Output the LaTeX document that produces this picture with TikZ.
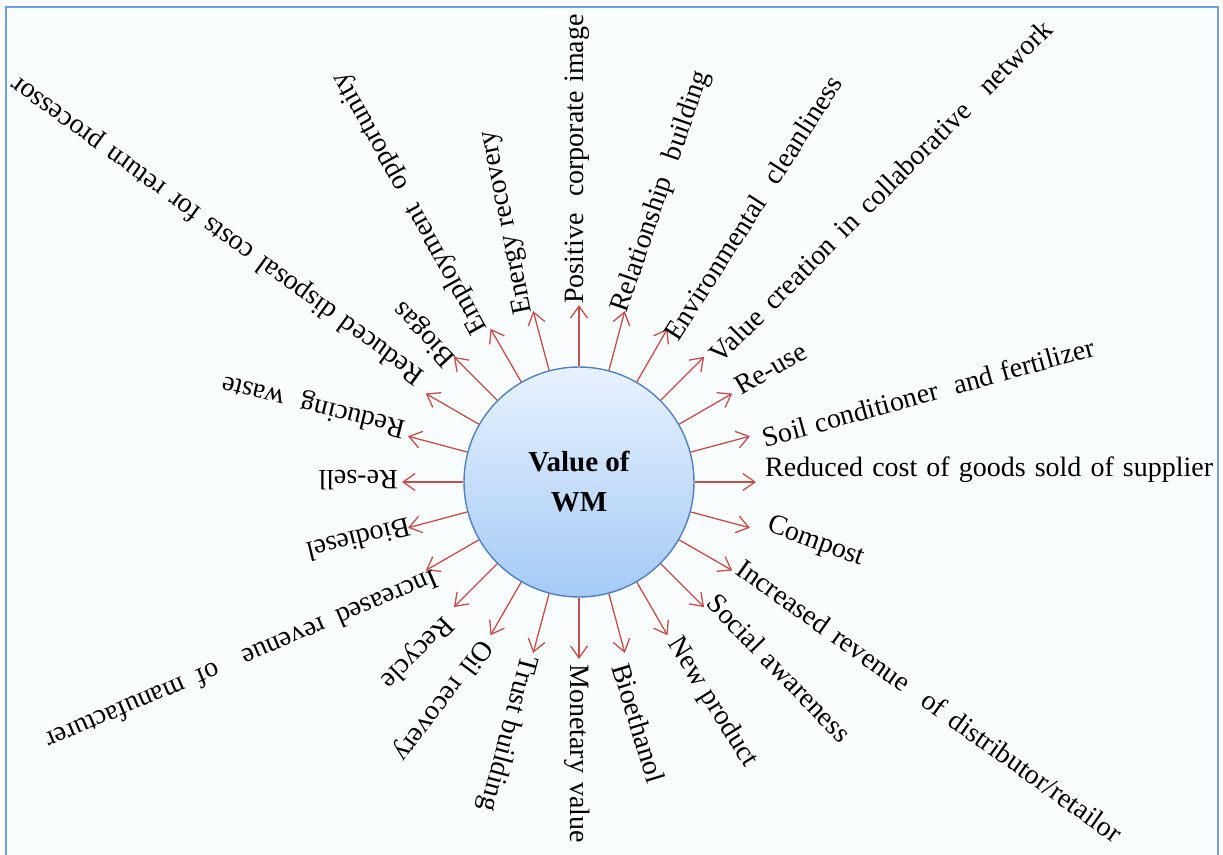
\documentclass[tikz,border=0pt]{standalone}
\usepackage{fontspec}
\setmainfont{Liberation Serif}
\usetikzlibrary{arrows.meta}
\definecolor{spokered}{HTML}{C0504D}
\definecolor{frameblue}{HTML}{6F9FE0}
\definecolor{rimblue}{HTML}{4F81BD}
\definecolor{discTop}{HTML}{E8F2FE}
\definecolor{discBottom}{HTML}{A4CAF6}
\definecolor{paper}{HTML}{FAFDFD}
% a wider gap between two words
\newcommand\dblsp{\hspace{0.3em plus 1fil}}
\newcommand\lblfont{\fontsize{28}{30}\selectfont\spaceskip=0.3em plus 1fil\relax}
% set a label to a given length by spreading its word gaps (0 = natural length)
\newcommand\spread[2]{\ifnum#1=0 #2\else\makebox[#1pt][s]{#2}\fi}
\begin{document}
\begin{tikzpicture}[x=1pt,y=-1pt,
  spoke/.style={draw=spokered, line width=1.3pt,
    -{Straight Barb[length=12pt,width=17pt,line width=1.3pt]}},
  lbl/.style={anchor=west, inner sep=0pt, font=\lblfont},
  hub/.style={circle, draw=rimblue, line width=1.4pt, minimum size=230pt,
    inner sep=0pt, top color=discTop, bottom color=discBottom,
    align=center, font=\bfseries\fontsize{29}{40}\selectfont}]
\useasboundingbox (0,0) rectangle (1223,854);
\clip (0,0) rectangle (1223,854);
\fill[white] (0,0) rectangle (1223,854);
\filldraw[fill=paper, draw=frameblue, line width=2pt] (6,7) rectangle (1218,880);

% central disc
\coordinate (c) at (579,482);
\node[hub] (wm) at (c) {Value of\\WM};

% spokes and labels: arrow angle / label start x / y / label angle / length / text
\foreach \ang/\px/\py/\rot/\len/\txt [count=\i] in {
  90/577/304/90/284/{Positive\dblsp{} corporate image},
  75/620/312/71/254/{Relationship\dblsp{} building},
  60/670/338/57.5/308/{Environmental\dblsp{} cleanliness},
  45/714/358/45/471/{Value creation in collaborative\dblsp{} network},
  30/737/388/30/0/{Re-use},
  15/763/438/15.5/340/{Soil conditioner\dblsp{} and fertilizer},
  0/765/470/0/448/{Reduced cost of goods sold of supplier},
  -15/768/525/-20/0/{Compost},
  -30/740/565/-35.5/466/{Increased revenue\dblsp{} of distributor/retailor},
  -45/712/598/-46/0/{Social awareness},
  -60/673/640/-58/0/{New product},
  -75/621/664/-73/0/{Bioethanol},
  -90/577/664/-90/179/{Monetary value},
  -105/528/656/-105/0/{Trust building},
  -120/486/642/-127/145/{Oil recovery},
  -135/448/620/-135/0/{Recycle},
  -150/437/578/-157/423/{Increased revenue\dblsp{} of manufacturer},
  -165/410/527/-166/0/{Biodiesel},
  180/398/480/180/0/{Re-sell},
  165/405/428/166/182/{Reducing\dblsp{} waste},
  150/422/378/144/504/{Reduced disposal costs for return processor},
  135/452/362/133/0/{Biogas},
  120/482/332/119/294/{Employment\dblsp{} opportunity},
  105/526/314/101.5/0/{Energy recovery}} {
  \coordinate (t\i) at ({579+177*cos(\ang)},{482-177*sin(\ang)});
  \draw[spoke] (wm.\ang) -- (t\i);
  \node[lbl, rotate=\rot] (l\i) at (\px,\py) {\spread{\len}{\txt}};
}
\end{tikzpicture}
\end{document}
